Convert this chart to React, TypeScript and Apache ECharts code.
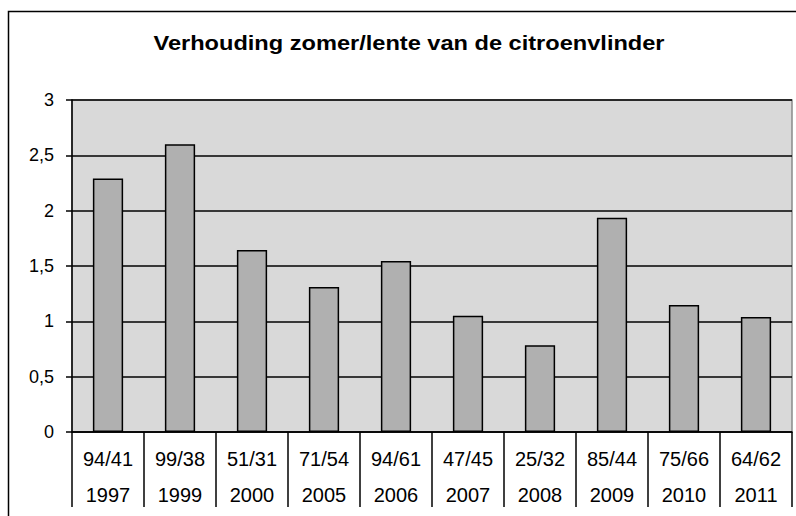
import React, { useEffect, useRef } from "react";
import * as echarts from "echarts";

const ratios = ["94/41", "99/38", "51/31", "71/54", "94/61", "47/45", "25/32", "85/44", "75/66", "64/62"];
const years = ["1997", "1999", "2000", "2005", "2006", "2007", "2008", "2009", "2010", "2011"];
const values = [2.29, 2.6, 1.645, 1.31, 1.545, 1.05, 0.785, 1.935, 1.148, 1.04];
const yTicks = { min: 0, max: 3, interval: 0.5 };
const title = "Verhouding zomer/lente van de citroenvlinder";

export default function App() {
  const ref = useRef<HTMLDivElement>(null);
  useEffect(() => {
    if (!ref.current) return;
    const chart = echarts.init(ref.current, null, { renderer: "svg" });
    const cats = ratios.map((r, i) => r + "|" + years[i]);
    chart.setOption({
      animation: false,
      backgroundColor: "#ffffff",
      textStyle: { fontFamily: "Liberation Sans" },
      graphic: [
        {
          type: "text",
          x: 409,
          y: 43,
          scaleX: 1.18,
          style: {
            text: title,
            fontFamily: "Liberation Sans",
            fontWeight: "bold",
            fontSize: 20,
            fill: "#000",
            textAlign: "center",
            textVerticalAlign: "middle",
          },
          silent: true,
          z: 100,
        },
        {
          type: "rect",
          shape: { x: 8.5, y: 11.5, width: 800, height: 520 },
          style: { fill: "none", stroke: "#000", lineWidth: 1.5 },
          silent: true,
          z: 100,
        },
      ],
      grid: {
        left: 72,
        right: 4,
        top: 100,
        bottom: 84,
        show: true,
        backgroundColor: "#d9d9d9",
        borderColor: "#8a8a8a",
        borderWidth: 1.5,
      },
      xAxis: {
        type: "category",
        data: cats,
        axisLine: { lineStyle: { color: "#000", width: 1.5 } },
        axisTick: { show: true, interval: 0, length: 75, lineStyle: { color: "#000", width: 1.5 } },
        axisLabel: {
          interval: 0,
          margin: 9,
          fontSize: 20,
          formatter: (v: string) => {
            const [a, b] = v.split("|");
            return "{a|" + a + "}\n{a|" + b + "}";
          },
          rich: {
            a: { fontFamily: "Liberation Sans", fontSize: 20, lineHeight: 36, color: "#000" },
          },
        },
      },
      yAxis: {
        type: "value",
        min: yTicks.min,
        max: yTicks.max,
        interval: yTicks.interval,
        axisLine: { show: true, lineStyle: { color: "#000", width: 1.5 } },
        axisTick: { show: true, length: 6, lineStyle: { color: "#000", width: 1.5 } },
        axisLabel: {
          margin: 18,
          fontFamily: "Liberation Sans",
          fontSize: 18,
          color: "#000",
          formatter: (v: number) => String(v).replace(".", ","),
        },
        splitLine: { show: true, lineStyle: { color: "#000", width: 1.5 } },
      },
      series: [
        {
          type: "bar",
          data: values,
          barWidth: "42%",
          itemStyle: { color: "#b0b0b0", borderColor: "#000", borderWidth: 1.5 },
        },
      ],
    });
    return () => chart.dispose();
  }, []);
  return <div ref={ref} style={{ position: "fixed", left: 0, top: 0, width: 796, height: 516 }} />;
}
